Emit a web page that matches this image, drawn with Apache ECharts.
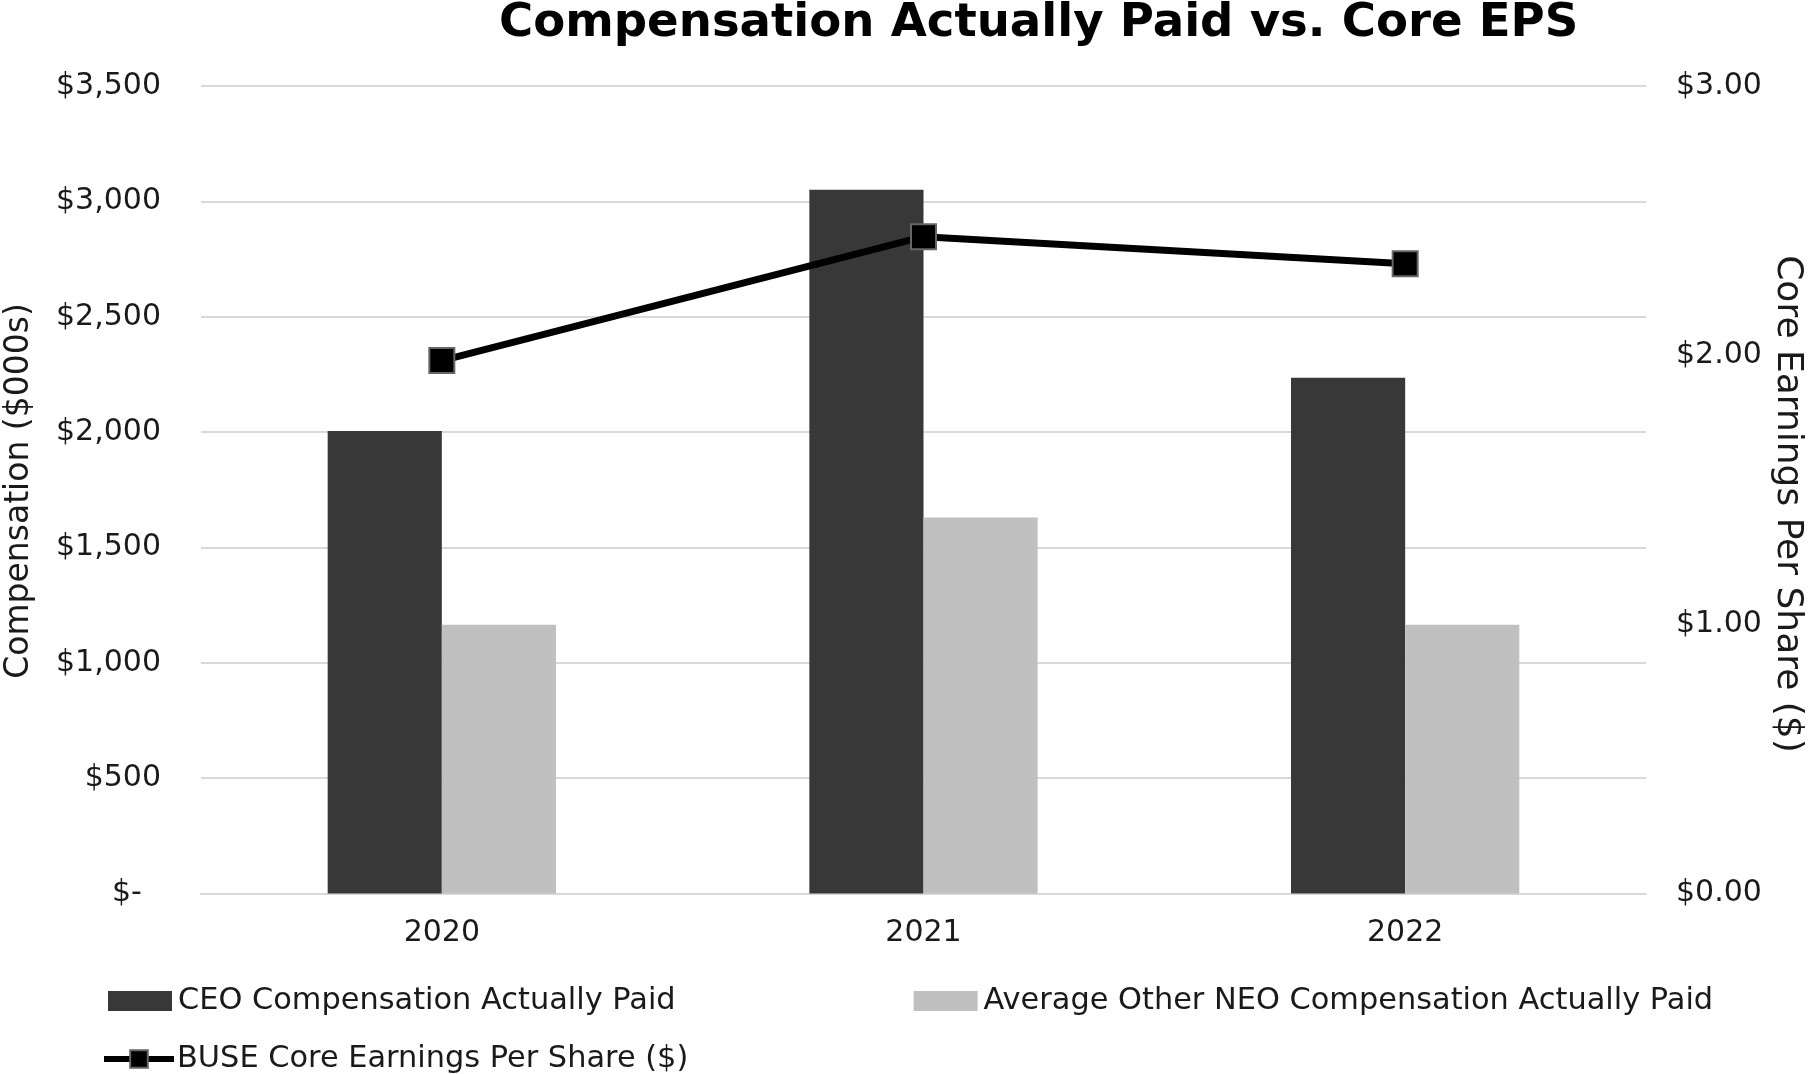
<!DOCTYPE html>
<html>
<head>
<meta charset="utf-8">
<script src="https://cdn.jsdelivr.net/npm/echarts@6/dist/echarts.min.js"></script>
<style>html,body{margin:0;padding:0;background:#fff;}#c{width:1808px;height:1074px;}</style>
</head>
<body>
<div id="c"></div>
<script>
const years = ['2020', '2021', '2022'];
const ceoPaid = [2005, 3050, 2235];
const neoPaid = [1165, 1630, 1165];
const coreEps = [1.98, 2.44, 2.34];
const leftTicks = [0, 500, 1000, 1500, 2000, 2500, 3000, 3500];
const rightTicks = [0, 1, 2, 3];
const leftTitle = 'Compensation ($000s)';
const rightTitle = 'Core Earnings Per Share ($)';

const FONT = 'DejaVu Sans';
const chart = echarts.init(document.getElementById('c'), null, {renderer: 'canvas'});
chart.setOption({
  backgroundColor: '#ffffff',
  animation: false,
  textStyle: {fontFamily: FONT},
  title: {
    text: 'Compensation Actually Paid vs. Core EPS',
    left: 494, top: -5,
    textStyle: {fontFamily: FONT, fontWeight: 'bold', fontSize: 46.6, color: '#000'}
  },
  grid: {left: 201, right: 162, top: 86, bottom: 180.5, containLabel: false},
  graphic: [{
    type: 'text', x: 19, y: 491, rotation: Math.PI / 2,
    style: {text: leftTitle, fontFamily: FONT, fontSize: 33, fill: '#1a1a1a', align: 'center', verticalAlign: 'middle'}
  }, {
    type: 'text', x: 1787, y: 504, rotation: -Math.PI / 2,
    style: {text: rightTitle, fontFamily: FONT, fontSize: 36, fill: '#1a1a1a', align: 'center', verticalAlign: 'middle'}
  }],
  legend: [{
    data: ['CEO Compensation Actually Paid', 'Average Other NEO Compensation Actually Paid'],
    left: 103, top: 981, itemWidth: 64, itemHeight: 20, itemGap: 238,
    icon: 'rect',
    textStyle: {fontFamily: FONT, fontSize: 30.4, color: '#1a1a1a', padding: [0, 0, 0, 1]}
  }, {
    data: ['BUSE Core Earnings Per Share ($)'],
    left: 96, top: 1039, itemWidth: 70, itemHeight: 22,
    lineStyle: {width: 6, color: '#000'},
    textStyle: {fontFamily: FONT, fontSize: 30.4, color: '#1a1a1a', padding: [0, 0, 0, -2]}
  }],
  xAxis: {
    type: 'category', data: years,
    axisLine: {show: true, lineStyle: {color: '#d9d9d9', width: 2}},
    axisTick: {show: false},
    axisLabel: {fontFamily: FONT, fontSize: 30, color: '#1a1a1a', margin: 25}
  },
  yAxis: [{
    type: 'value', min: 0, max: 3500, interval: 500,
    axisLine: {show: false}, axisTick: {show: false},
    splitLine: {lineStyle: {color: '#d9d9d9', width: 2}},
    axisLabel: {
      fontFamily: FONT, fontSize: 30, color: '#1a1a1a', margin: 40,
      formatter: v => leftTicks.indexOf(v) === 0 ? '$-  ' : '$' + v.toLocaleString('en-US')
    }
  }, {
    type: 'value', min: 0, max: 3, interval: 1, position: 'right',
    axisLine: {show: false}, axisTick: {show: false}, splitLine: {show: false},
    axisLabel: {
      fontFamily: FONT, fontSize: 30, color: '#1a1a1a', margin: 30,
      formatter: v => rightTicks.indexOf(v) >= 0 ? '$' + v.toFixed(2) : ''
    }
  }],
  series: [{
    name: 'CEO Compensation Actually Paid', type: 'bar', data: ceoPaid,
    barWidth: '23.7%', barGap: '0%',
    itemStyle: {color: '#383838'}
  }, {
    name: 'Average Other NEO Compensation Actually Paid', type: 'bar', data: neoPaid,
    barWidth: '23.7%', barGap: '0%',
    itemStyle: {color: '#c0c0c0'}
  }, {
    name: 'BUSE Core Earnings Per Share ($)', type: 'line', yAxisIndex: 1, data: coreEps,
    symbol: 'rect', symbolSize: 25,
    lineStyle: {color: '#000', width: 7},
    itemStyle: {color: '#000', borderColor: '#666', borderWidth: 2}
  }]
});
</script>
</body>
</html>
